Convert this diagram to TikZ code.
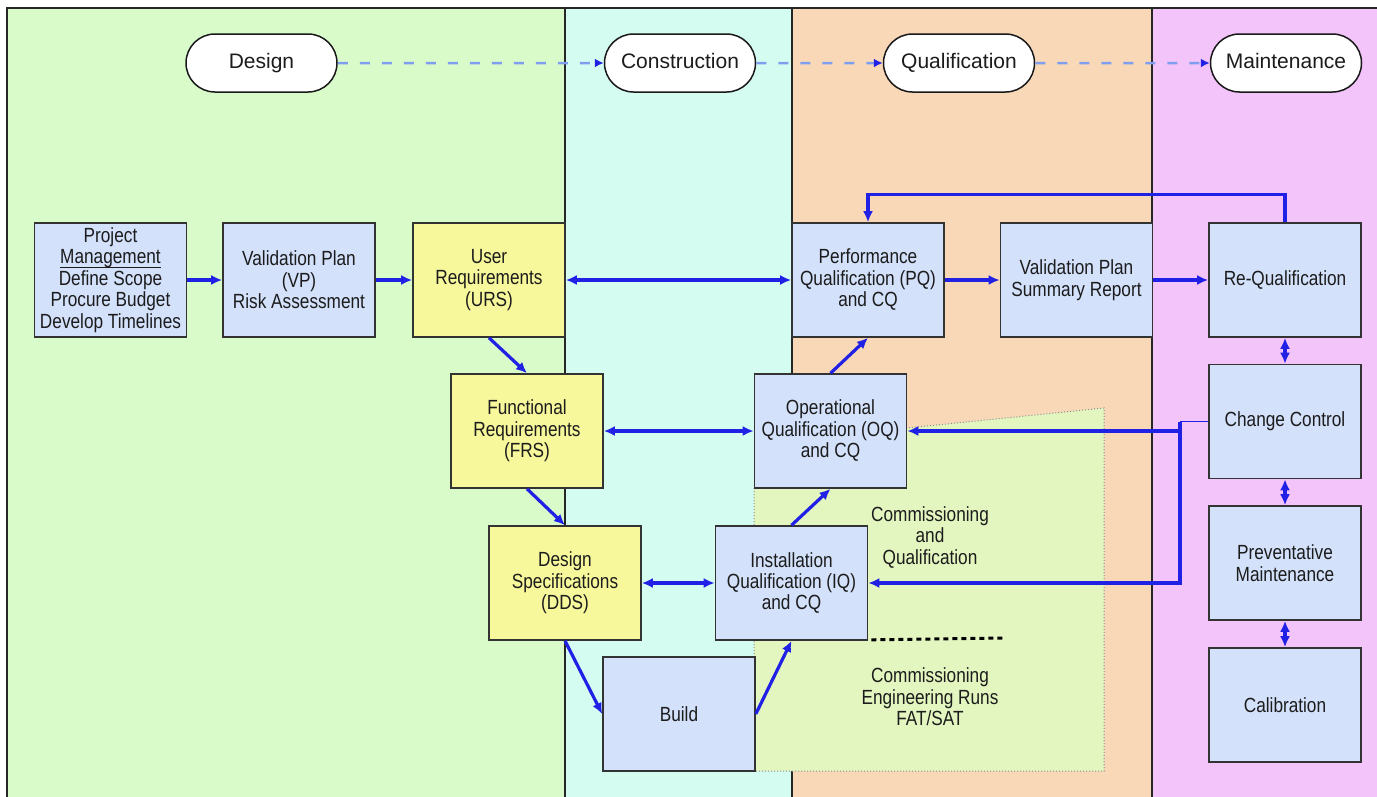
\documentclass[tikz,border=0pt]{standalone}
\usepackage{fontspec}
\setmainfont{Liberation Sans}
\newfontfamily\boxfont[FakeStretch=0.84]{Liberation Sans}
\usetikzlibrary{arrows.meta,shapes.misc}

\definecolor{lanegreen}{HTML}{D9FBCA}
\definecolor{lanecyan}{HTML}{D5FCF1}
\definecolor{laneorange}{HTML}{F9D8B8}
\definecolor{lanepink}{HTML}{F3C4F9}
\definecolor{cqfill}{HTML}{E4F6C0}
\definecolor{boxblue}{HTML}{D3E1FB}
\definecolor{boxyellow}{HTML}{F7F79C}
\definecolor{flowblue}{HTML}{2121E6}
\definecolor{dashblue}{HTML}{7F9EF0}
\definecolor{inkgrey}{HTML}{1C1C1C}

% word with a close-set underline
\newcommand\ulword[1]{\setbox0\hbox{#1}\rlap{\rule[-4.6pt]{\wd0}{1.1pt}}\box0}

\tikzset{
  lane/.style={line width=1.5pt, draw=black!85},
  phasebox/.style={draw=black!90, line width=1.5pt, fill=white, rounded rectangle,
    minimum width=151pt, minimum height=58pt, inner sep=0pt,
    text height=15pt, text depth=4.5pt,
    font=\fontsize{21}{24}\selectfont, text=inkgrey},
  procbox/.style={draw=black!80, line width=1.6pt, fill=boxblue,
    minimum width=152pt, minimum height=114pt, inner sep=0pt, align=center,
    font=\boxfont\fontsize{20.5}{21.5}\selectfont, text=inkgrey},
  specbox/.style={procbox, fill=boxyellow},
  flow/.style={draw=flowblue, line width=3.2pt, -{Latex[length=11pt,width=10pt]}},
  biflow/.style={draw=flowblue, line width=3.2pt, {Latex[length=11pt,width=10pt]}-{Latex[length=11pt,width=10pt]}},
  phaseflow/.style={draw=dashblue, line width=2.5pt, dash pattern=on 10pt off 12pt,
    -{Latex[length=9pt,width=9pt,color=flowblue]}},
  plainlabel/.style={align=center, font=\boxfont\fontsize{20.5}{21.5}\selectfont, text=inkgrey},
}

\begin{document}
\begin{tikzpicture}[x=1pt, y=-1pt]
  \useasboundingbox (0,0) rectangle (1377,796);
  \clip (0,0) rectangle (1377,796);
  \fill[white] (0,0) rectangle (1377,796);

  % swim lanes
  \fill[lanegreen]  (7,8)    rectangle (565,800);
  \fill[lanecyan]   (565,8)  rectangle (792,800);
  \fill[laneorange] (792,8)  rectangle (1152,800);
  \fill[lanepink]   (1152,8) rectangle (1380,800);
  \draw[lane] (7,800) -- (7,8) -- (1380,8);
  \draw[lane] (565,8) -- (565,800);
  \draw[lane] (792,8) -- (792,800);
  \draw[lane] (1152,8) -- (1152,800);

  % commissioning and qualification zone
  \fill[cqfill] (754,488) -- (754,771) -- (1104,771) -- (1104,408) -- (907,428) -- (907,488) -- cycle;
  \draw[black!45, line width=1pt, dotted] (754,488) -- (754,771) -- (1104,771) -- (1104,408) -- (907,428);

  % phases
  \node[phasebox] (design)  at (261.5,63) {Design};
  \node[phasebox] (constr)  at (680,63)   {Construction};
  \node[phasebox] (qualif)  at (959,63)   {Qualification};
  \node[phasebox] (maint)   at (1286,63)  {Maintenance};
  \draw[phaseflow] (design) -- (constr);
  \draw[phaseflow] (constr) -- (qualif);
  \draw[phaseflow] (qualif) -- (maint);

  % process boxes
  \node[procbox] (pm)    at (110.5,280) {Project\\\ulword{Management}\\Define Scope\\Procure Budget\\Develop Timelines};
  \node[procbox] (vp)    at (299,280)   {Validation Plan\\(VP)\\Risk Assessment};
  \node[specbox] (urs)   at (489,280)   {User\\Requirements\\(URS)};
  \node[specbox] (frs)   at (527,431)   {Functional\\Requirements\\(FRS)};
  \node[specbox] (dds)   at (565,583)   {Design\\Specifications\\(DDS)};
  \node[procbox] (build) at (679,714)   {Build};
  \node[procbox] (iq)    at (791.5,583) {Installation\\Qualification (IQ)\\and CQ};
  \node[procbox] (oq)    at (830.5,431) {Operational\\Qualification (OQ)\\and CQ};
  \node[procbox] (pq)    at (868,280)   {Performance\\Qualification (PQ)\\and CQ};
  \node[procbox] (vpsr)  at (1076.5,280) {Validation Plan\\Summary Report};
  \node[procbox] (reqf)  at (1285,280)  {Re-Qualification};
  \node[procbox] (cc)    at (1285,421.5) {Change Control};
  \node[procbox] (prev)  at (1285,563)  {Preventative\\Maintenance};
  \node[procbox] (cal)   at (1285,705)  {Calibration};

  % zone labels
  \node[plainlabel] (cqlabel) at (930,537) {Commissioning\\and\\Qualification};
  \node[plainlabel] (fatlabel) at (930,697) {Commissioning\\Engineering Runs\\FAT/SAT};
  \coordinate (dotend) at (1003,638);
  \draw[black, line width=3pt, dash pattern=on 5pt off 4pt] (iq.south east) ++(3,-1) -- (dotend);

  % flow connectors
  \draw[flow] (pm) -- (vp);
  \draw[flow] (vp) -- (urs);
  \draw[biflow] (urs) -- (pq);
  \draw[flow] (pq) -- (vpsr);
  \draw[flow] (vpsr) -- (reqf);
  \draw[flow] (urs.south) -- (frs.north);
  \draw[flow] (frs.south) -- (dds.north);
  \draw[flow] (dds.south) -- (build.west);
  \draw[flow] (build.east) -- (iq.south);
  \draw[flow] (iq.north) -- (oq.south);
  \draw[flow] (oq.north) -- (pq.south);
  \draw[biflow] (frs) -- (oq);
  \draw[biflow] (dds) -- (iq);
  \draw[flow] (reqf.north) -- ++(0,-28) -| (pq.north);

  % change control feedback
  \coordinate (ccjoin) at (1180,421.5);
  \coordinate (oqjoin) at (1180,431);
  \draw[flowblue, line width=1.5pt] (cc.west) -- (ccjoin);
  \draw[flow] (ccjoin) |- (iq.east);
  \draw[flow] (oqjoin) -- (oq.east);

  % maintenance chain
  \draw[biflow] (reqf) -- (cc);
  \draw[biflow] (cc) -- (prev);
  \draw[biflow] (prev) -- (cal);
\end{tikzpicture}
\end{document}
